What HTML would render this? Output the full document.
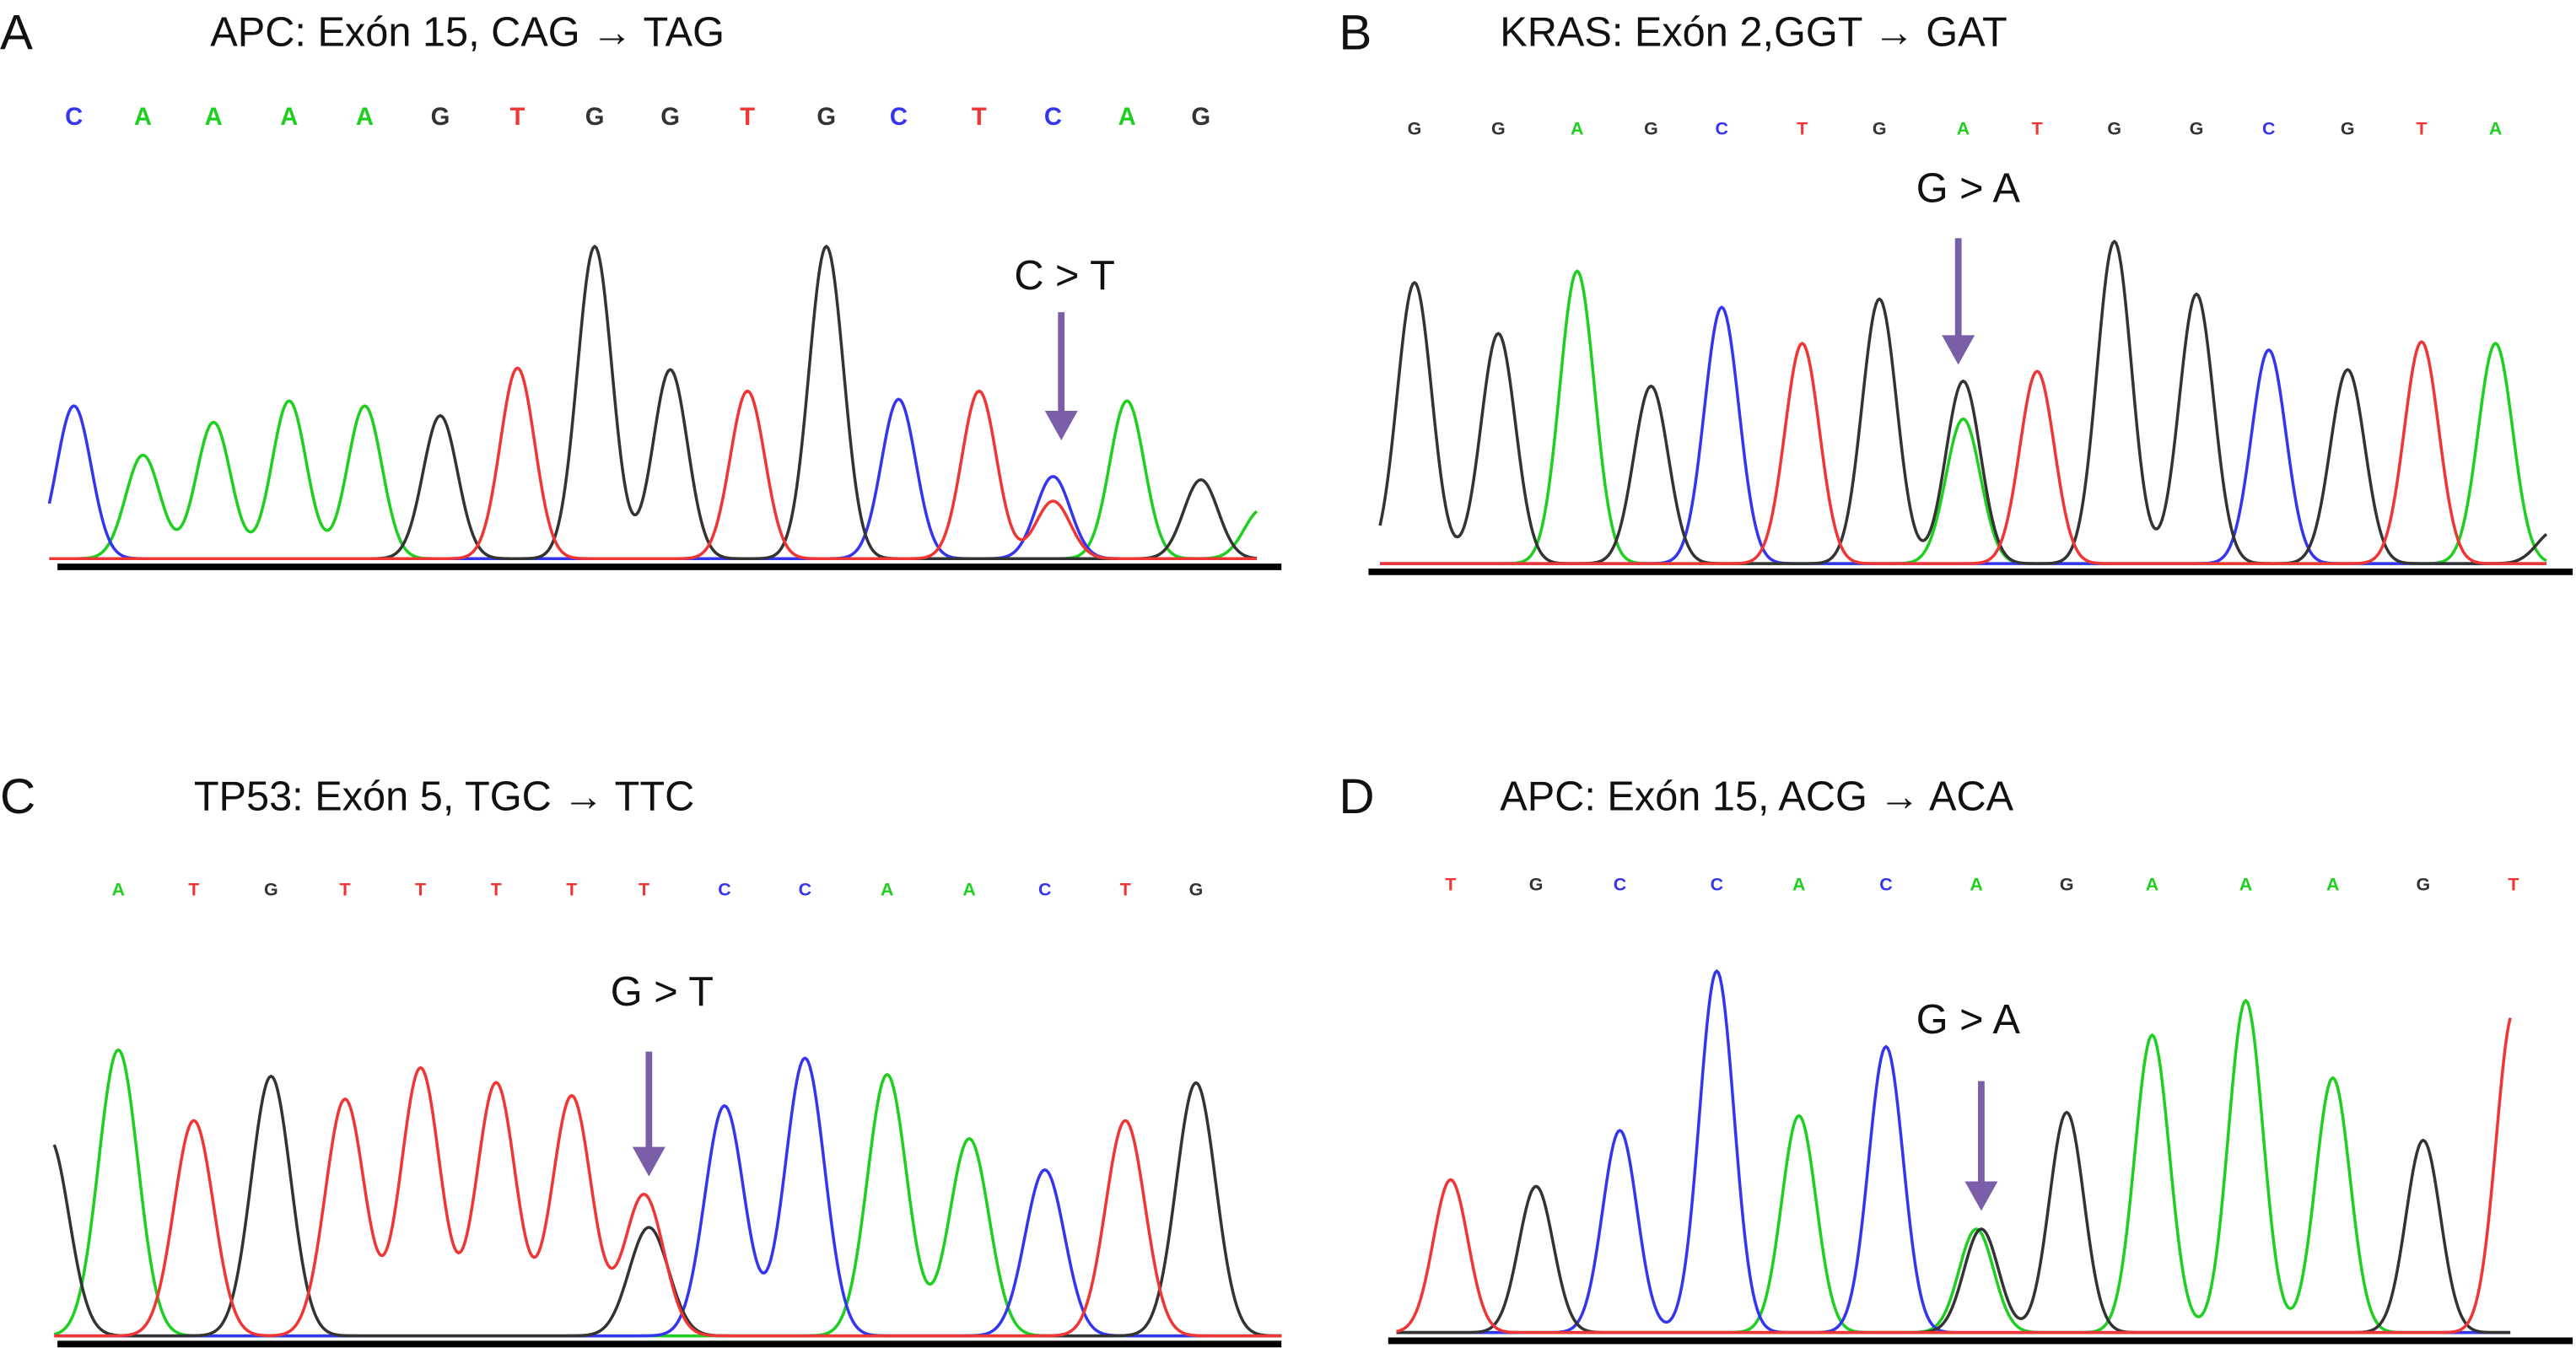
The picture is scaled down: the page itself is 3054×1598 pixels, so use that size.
<!DOCTYPE html>
<html><head><meta charset="utf-8"><style>
html,body{margin:0;padding:0;background:#fff;}
svg{display:block}
text{font-family:"Liberation Sans",sans-serif;}
</style></head><body>
<svg id="fig" width="3054" height="1598" viewBox="0 0 1568 820.4" preserveAspectRatio="none" xmlns="http://www.w3.org/2000/svg"></svg>
<script>
// Panel A
const aLetters=["C","A","A","A","A","G","T","G","G","T","G","C","T","C","A","G"];
const aX=[45,87,130,176,222,268,315,362,408,455,503,547,596,641,641,686,731,768];
const aVal=[93,63,83,96,93,87,116,190,115,102,190,97,102,50,35,96,48,30];
const aCol=["C","A","A","A","A","G","T","G","G","T","G","C","T","C","T","A","G","A"];
// Panel B
const bLetters=["G","G","A","G","C","T","G","A","T","G","G","C","G","T","A"];
const bX=[861,912,960,1005,1048,1097,1144,1195,1195,1240,1287,1337,1381,1429,1474,1519,1555];
const bVal=[171,140,178,108,156,134,161,111,88,117,196,164,130,118,135,134,20];
const bCol=["G","G","A","G","C","T","G","G","A","T","G","G","C","G","T","A","G"];
// Panel C
const cLetters=["A","T","G","T","T","T","T","T","C","C","A","A","C","T","G"];
const cX=[30,72,118,165,210,256,302,348,392,395,441,490,540,590,636,685,728];
const cVal=[120,174,131,158,144,163,154,146,86,66,140,169,159,120,101,131,154];
const cCol=["G","A","T","G","T","T","T","T","T","G","C","C","A","A","C","T","G"];
// Panel D
const dLetters=["T","G","C","C","A","C","A","G","A","A","A","G","T"];
const dX=[883,935,986,1045,1095,1148,1203,1206,1258,1310,1367,1420,1475,1530];
const dVal=[93,89,123,220,132,174,63,63,134,181,202,155,117,195];
const dCol=["T","G","C","C","A","C","A","G","G","A","A","A","G","T"];

const colors={A:"#1fcf1f",C:"#3535f0",G:"#333333",T:"#f03535"};
const NS="http://www.w3.org/2000/svg";
const svg=document.getElementById("fig");
function mk(tag,attrs,parent){const e=document.createElementNS(NS,tag);for(const k in attrs)e.setAttribute(k,attrs[k]);(parent||svg).appendChild(e);return e;}

const panels=[
 {id:"a",label:"A",lx:0,title:"APC: Exón 15, CAG \u2192 TAG",tx:128,ty:28,letters:aLetters,X:aX,V:aVal,C:aCol,base:342,x0:30,x1:765,lineX0:35,lineX1:780,sigma:10.5,letterY:76,letterSize:15,arrowX:646,arrowY0:190,arrowY1:268,mut:"C > T",mutX:648,mutY:176},
 {id:"b",label:"B",lx:815,title:"KRAS: Exón 2,GGT \u2192 GAT",tx:913,ty:28,letters:bLetters,X:bX,V:bVal,C:bCol,base:345,x0:840,x1:1550,lineX0:833,lineX1:1566,sigma:10.5,letterY:82,letterSize:11,arrowX:1192,arrowY0:145,arrowY1:222,mut:"G > A",mutX:1198,mutY:123},
 {id:"c",label:"C",lx:0,title:"TP53: Exón 5, TGC \u2192 TTC",tx:118,ty:493,letters:cLetters,X:cX,V:cVal,C:cCol,base:815,x0:33,x1:780,lineX0:35,lineX1:780,sigma:12,letterY:545,letterSize:11,arrowX:395,arrowY0:640,arrowY1:716,mut:"G > T",mutX:403,mutY:612},
 {id:"d",label:"D",lx:815,title:"APC: Exón 15, ACG \u2192 ACA",tx:913,ty:493,letters:dLetters,X:dX,V:dVal,C:dCol,base:813,x0:850,x1:1528,lineX0:845,lineX1:1566,sigma:10.5,letterY:542,letterSize:11,arrowX:1206,arrowY0:658,arrowY1:737,mut:"G > A",mutX:1198,mutY:629}
];

panels.forEach(p=>{
 const g=mk("g",{});
 
 
 const lab=mk("text",{x:p.lx,y:p.ty+2,"font-size":30,fill:"#111"},g);lab.textContent=p.label;
 
 
 const t=mk("text",{x:p.tx,y:p.ty,"font-size":25,fill:"#111"},g);t.textContent=p.title;
 
 
 const seen=[];p.X.forEach((x,i)=>{if(seen.length<p.letters.length&&x>=p.x0+5&&(seen.length===0||x-seen[seen.length-1]>10))seen.push(x);});
 p.letters.forEach((L,i)=>{
  const x=seen[i];if(x===undefined)return;
  const tt=mk("text",{x:x,y:p.letterY,"font-size":p.letterSize,"font-family":"Liberation Mono, monospace","font-weight":"bold","text-anchor":"middle",fill:colors[L]},g);
  tt.textContent=L;
  
  
 });
 ["A","C","G","T"].forEach(b=>{
  let d="";
  for(let x=p.x0;x<=p.x1;x+=1){
   let s=0;
   p.X.forEach((px,i)=>{if(p.C[i]===b){s+=p.V[i]*Math.exp(-((x-px)*(x-px))/(2*p.sigma*p.sigma));}});
   const y=p.base-2-s;
   d+=(x===p.x0?"M":"L")+x+","+y.toFixed(2);
  }
  const path=mk("path",{d:d,fill:"none",stroke:colors[b],"stroke-width":1.8},g);
  
  
 });
 const bl=mk("line",{x1:p.lineX0,x2:p.lineX1,y1:p.base+3,y2:p.base+3,stroke:"#000","stroke-width":4},g);
 
 
 const m=mk("text",{x:p.mutX,y:p.mutY,"font-size":25,"text-anchor":"middle",fill:"#111"},g);m.textContent=p.mut;
 
 
 const ag=mk("g",{},g);
 
 
 mk("line",{x1:p.arrowX,x2:p.arrowX,y1:p.arrowY0,y2:p.arrowY1-16,stroke:"#7a5ea8","stroke-width":4},ag);
 mk("polygon",{points:(p.arrowX-10)+","+(p.arrowY1-18)+" "+(p.arrowX+10)+","+(p.arrowY1-18)+" "+p.arrowX+","+p.arrowY1,fill:"#7a5ea8"},ag);
});
</script>
</body></html>
